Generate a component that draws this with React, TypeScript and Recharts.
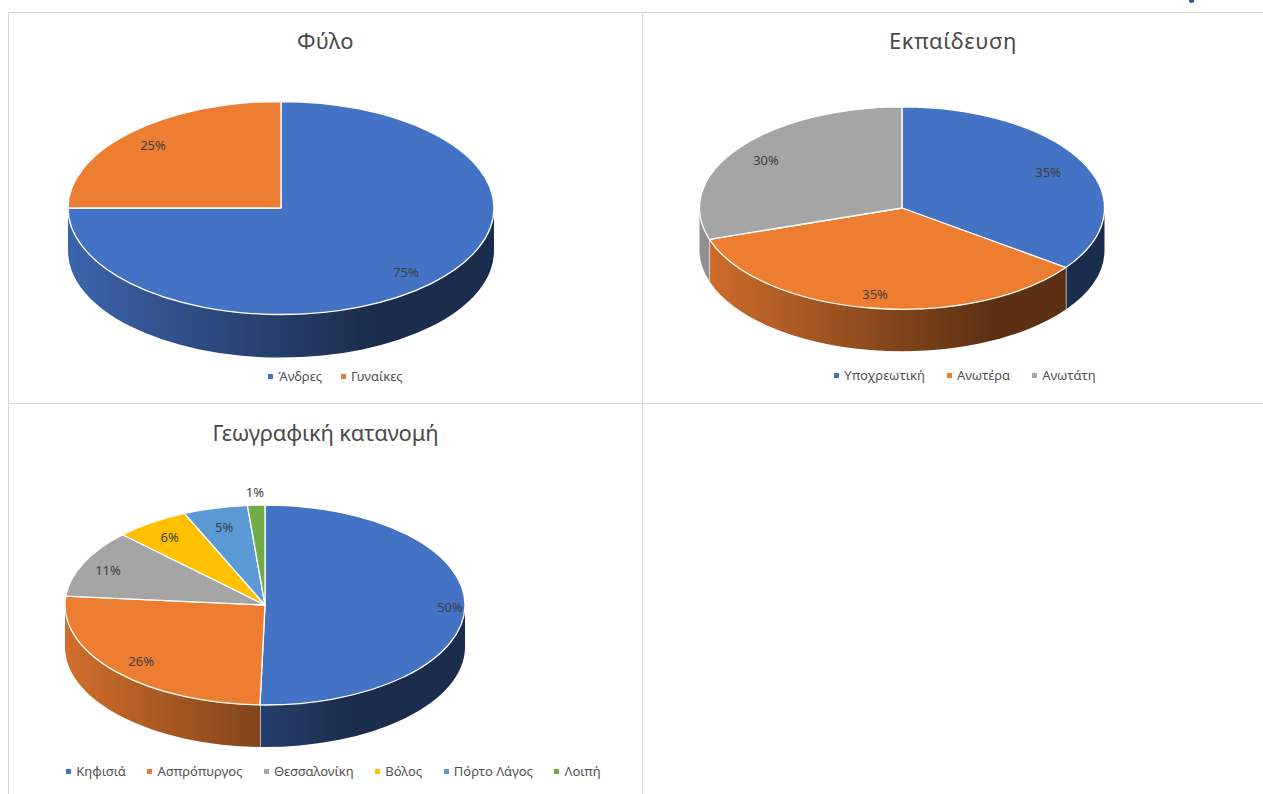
import { PieChart, Pie, Legend } from 'recharts';

const genderNames = ['Άνδρες', 'Γυναίκες'];
const genderValues = [75, 25];
const genderLabelRadii = [0.83, 0.85];

const educationNames = ['Υποχρεωτική', 'Ανωτέρα', 'Ανωτάτη'];
const educationValues = [35, 35, 30];
const educationLabelRadii = [0.81, 0.85, 0.83];

const regionNames = ['Κηφισιά', 'Ασπρόπυργος', 'Θεσσαλονίκη', 'Βόλος', 'Πόρτο Λάγος', 'Λοιπή'];
const regionValues = [50.4, 26, 11, 6, 5.2, 1.4];
const regionLabelRadii = [0.925, 0.83, 0.865, 0.84, 0.82, 1.14];

const COLORS = ['#4472C4', '#ED7D31', '#A5A5A5', '#FFC000', '#5B9BD5', '#70AD47'];
const TILT = 0.5;
const RAD = Math.PI / 180;

function shade(hex: string, k: number) {
  const n = parseInt(hex.slice(1), 16);
  const c = [n >> 16, (n >> 8) & 255, n & 255].map((v) => Math.round(v * k));
  return `rgb(${c[0]},${c[1]},${c[2]})`;
}

// top face of a slice, the library's circle angles squashed to an ellipse
function TopSlice(props: any) {
  const { cx, cy, outerRadius: rx, startAngle, endAngle, fill } = props;
  const ry = rx * TILT;
  const x0 = cx + rx * Math.cos(startAngle * RAD);
  const y0 = cy - ry * Math.sin(startAngle * RAD);
  const x1 = cx + rx * Math.cos(endAngle * RAD);
  const y1 = cy - ry * Math.sin(endAngle * RAD);
  const large = Math.abs(startAngle - endAngle) > 180 ? 1 : 0;
  return (
    <path
      d={`M${cx},${cy}L${x0},${y0}A${rx},${ry} 0 ${large} 1 ${x1},${y1}Z`}
      fill={fill}
      stroke="#fff"
      strokeWidth={1.3}
      strokeLinejoin="round"
    />
  );
}

// side wall, only the part of the slice facing the viewer (angles 0 to -180)
function wallSlice(depth: number, gradId: string) {
  return (props: any) => {
    const { cx, cy, outerRadius: rx, startAngle, endAngle, fill, index } = props;
    const ry = rx * TILT;
    const s = Math.min(startAngle, 0);
    const e = Math.max(endAngle, -180);
    if (s <= e) return <g />;
    const x0 = cx + rx * Math.cos(s * RAD);
    const y0 = cy - ry * Math.sin(s * RAD);
    const x1 = cx + rx * Math.cos(e * RAD);
    const y1 = cy - ry * Math.sin(e * RAD);
    const colorIdx = COLORS.indexOf(fill);
    return (
      <g>
        <path
          d={`M${x0},${y0}A${rx},${ry} 0 0 1 ${x1},${y1}L${x1},${y1 + depth}A${rx},${ry} 0 0 0 ${x0},${y0 + depth}Z`}
          fill={`url(#${gradId}-${colorIdx >= 0 ? colorIdx : index})`}
        />
        {e > -180 && <line x1={x1} y1={y1} x2={x1} y2={y1 + depth} stroke="#fff" strokeWidth={1.3} />}
      </g>
    );
  };
}

function percentLabel(radii: number[]) {
  return (props: any) => {
    const { cx, cy, outerRadius: rx, midAngle, percent, index } = props;
    const r = radii[index];
    return (
      <text
        x={cx + rx * r * Math.cos(midAngle * RAD)}
        y={cy + 1 - rx * TILT * r * Math.sin(midAngle * RAD)}
        textAnchor="middle"
        dominantBaseline="central"
        fontSize={13}
        fill="#404040"
        fontFamily="'Noto Sans', sans-serif"
      >
        {`${Math.round(percent * 100)}%`}
      </text>
    );
  };
}

function KeyRow({ payload, gap }: any) {
  // both pie layers report their slices, show each name once
  const items = (payload || []).filter(
    (p: any, i: number, all: any[]) => all.findIndex((o) => o.value === p.value) === i
  );
  return (
    <div style={{ display: 'flex', justifyContent: 'center', gap, whiteSpace: 'nowrap' }}>
      {items.map((p: any) => (
        <span key={p.value} style={{ display: 'inline-flex', alignItems: 'center', color: '#505050', fontSize: 13 }}>
          <span style={{ width: 5, height: 5, background: p.color, marginRight: 5, marginTop: 1 }} />
          {p.value}
        </span>
      ))}
    </div>
  );
}

type PanelProps = {
  id: string;
  title: string;
  names: string[];
  values: number[];
  radii: number[];
  left: number;
  top: number;
  width: number;
  height: number;
  cx: number;
  cy: number;
  rx: number;
  depth: number;
  titleY: number;
  titleSpacing: number;
  legendY: number;
  legendGap: number;
  legendShift: number;
};

function Panel(p: PanelProps) {
  const data = p.names.map((name, i) => ({ name, value: p.values[i], fill: COLORS[i] }));
  return (
    <div style={{ position: 'absolute', left: p.left, top: p.top, width: p.width, height: p.height }}>
      <div
        style={{
          position: 'absolute',
          top: p.titleY,
          left: 0,
          width: p.width,
          textAlign: 'center',
          fontSize: 22,
          lineHeight: '30px',
          letterSpacing: p.titleSpacing,
          color: '#4a4a4a',
        }}
      >
        {p.title}
      </div>
      <PieChart width={p.width} height={p.height} margin={{ top: 0, right: 0, bottom: 0, left: 0 }}>
        <defs>
          {COLORS.map((c, i) => (
            <linearGradient
              key={c}
              id={`${p.id}-${i}`}
              gradientUnits="userSpaceOnUse"
              x1={p.cx - p.rx}
              x2={p.cx + p.rx}
              y1={0}
              y2={0}
            >
              <stop offset="0%" stopColor={shade(c, 0.88)} />
              <stop offset="72%" stopColor={shade(c, 0.39)} />
              <stop offset="100%" stopColor={shade(c, 0.39)} />
            </linearGradient>
          ))}
        </defs>
        <Pie
          data={data}
          dataKey="value"
          nameKey="name"
          cx={p.cx}
          cy={p.cy}
          outerRadius={p.rx}
          startAngle={90}
          endAngle={-270}
          legendType="none"
          shape={wallSlice(p.depth, p.id)}
          isAnimationActive={false}
        />
        <Pie
          data={data}
          dataKey="value"
          nameKey="name"
          cx={p.cx}
          cy={p.cy}
          outerRadius={p.rx}
          startAngle={90}
          endAngle={-270}
          shape={TopSlice}
          label={percentLabel(p.radii)}
          labelLine={false}
          isAnimationActive={false}
        />
        <Legend
          verticalAlign="middle"
          align="center"
          itemSorter={null}
          wrapperStyle={{ position: 'absolute', top: p.legendY, left: p.legendShift, width: p.width }}
          content={(lp: any) => <KeyRow payload={lp.payload} gap={p.legendGap} />}
        />
      </PieChart>
    </div>
  );
}

const line = '#d9d9d9';

export default function App() {
  return (
    <div
      style={{
        position: 'absolute',
        left: 0,
        top: 0,
        width: 1263,
        height: 794,
        overflow: 'hidden',
        background: '#fff',
        fontFamily: "'Noto Sans', sans-serif",
      }}
    >
      <div style={{ position: 'absolute', left: 1189, top: 0, width: 5, height: 3, borderRadius: '0 0 3px 3px', background: '#2f5597' }} />
      <div style={{ position: 'absolute', left: 8, top: 12, width: 1255, height: 1, background: line }} />
      <div style={{ position: 'absolute', left: 8, top: 403, width: 1255, height: 1, background: line }} />
      <div style={{ position: 'absolute', left: 8, top: 12, width: 1, height: 782, background: line }} />
      <div style={{ position: 'absolute', left: 642, top: 12, width: 1, height: 782, background: line }} />
      <Panel
        id="g"
        title="Φύλο"
        names={genderNames}
        values={genderValues}
        radii={genderLabelRadii}
        left={9}
        top={13}
        width={633}
        height={390}
        cx={272}
        cy={195}
        rx={213}
        depth={43}
        titleY={12}
        titleSpacing={0.4}
        legendY={354}
        legendGap={19}
        legendShift={10}
      />
      <Panel
        id="e"
        title="Εκπαίδευση"
        names={educationNames}
        values={educationValues}
        radii={educationLabelRadii}
        left={643}
        top={13}
        width={620}
        height={390}
        cx={259}
        cy={195}
        rx={202.5}
        depth={42}
        titleY={12}
        titleSpacing={0.6}
        legendY={353}
        legendGap={22}
        legendShift={12}
      />
      <Panel
        id="r"
        title="Γεωγραφική κατανομή"
        names={regionNames}
        values={regionValues}
        radii={regionLabelRadii}
        left={9}
        top={404}
        width={633}
        height={390}
        cx={256}
        cy={201}
        rx={200}
        depth={42}
        titleY={13}
        titleSpacing={-0.2}
        legendY={358}
        legendGap={21.6}
        legendShift={8}
      />
    </div>
  );
}
